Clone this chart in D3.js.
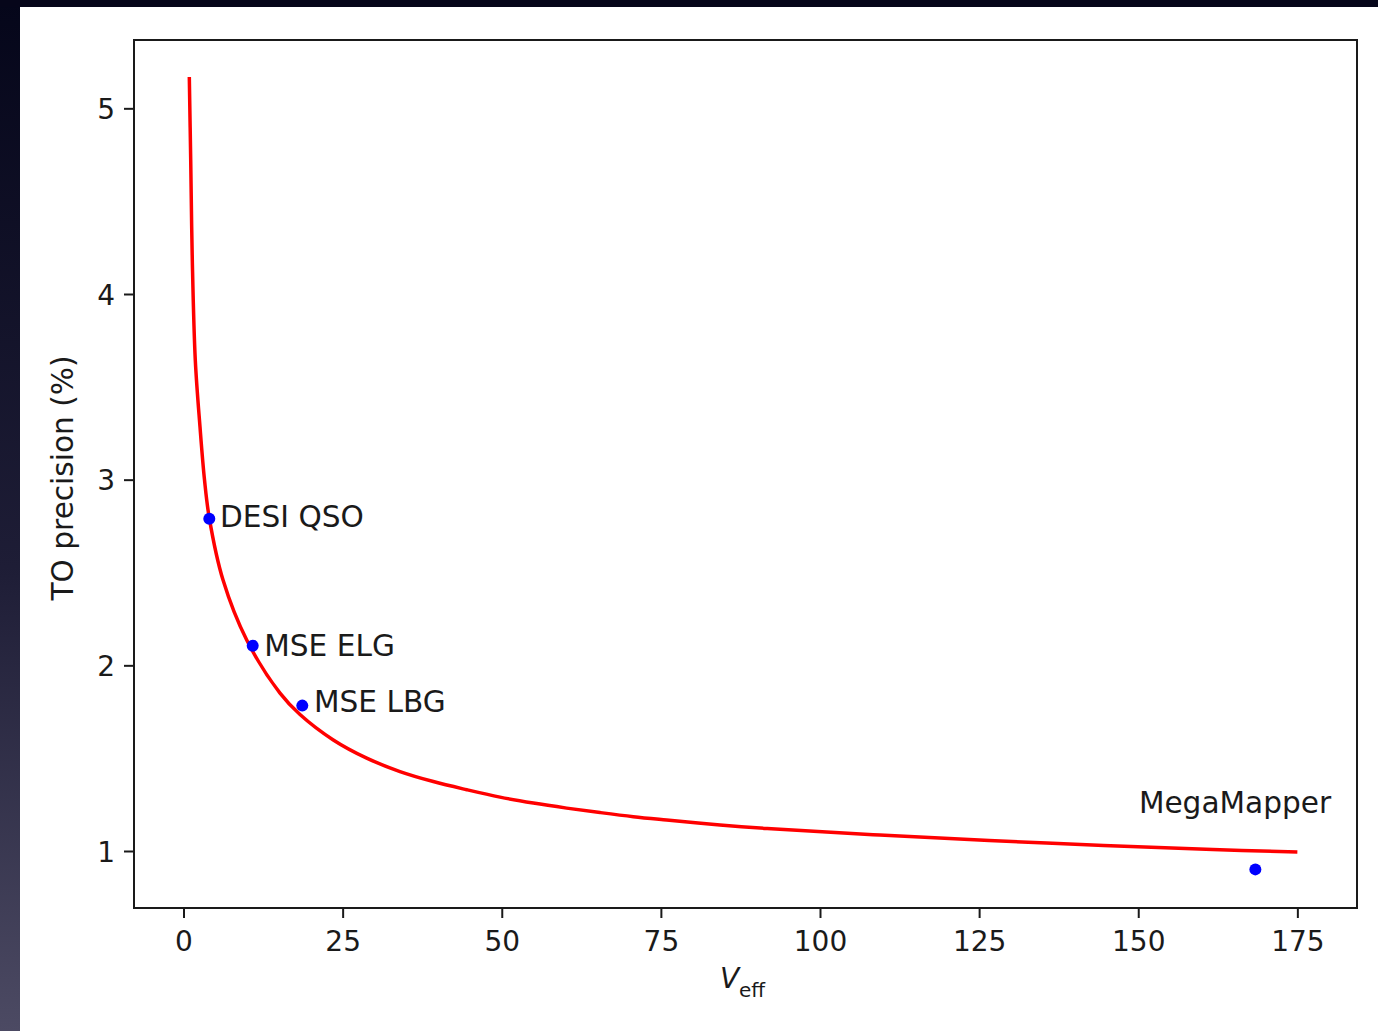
<!DOCTYPE html>
<html>
<head>
<meta charset="utf-8">
<script src="https://cdn.jsdelivr.net/npm/d3@7"></script>
<style>
  html, body { margin: 0; padding: 0; background: #fff; }
  svg { display: block; }
  text { font-family: "DejaVu Sans", sans-serif; fill: #1a1a1a; }
</style>
</head>
<body>
<svg id="chart" width="1378" height="1031"></svg>
<script>
// ---- data ----
const curveV = [0.91, 1.13, 1.38, 1.85, 2.59, 3.30, 4.05, 6.21, 9.93, 15.16, 18.3, 23.53, 28.78, 34.01, 39.25, 44.49, 49.72, 54.96, 60.2, 65.44, 70.67, 75.91, 84.29, 91.7, 109.4, 135.6, 161.7, 175];
const curveP = [5.169, 4.722, 4.183, 3.644, 3.284, 2.998, 2.793, 2.459, 2.136, 1.850, 1.735, 1.598, 1.500, 1.428, 1.374, 1.330, 1.290, 1.258, 1.231, 1.207, 1.185, 1.167, 1.140, 1.121, 1.086, 1.043, 1.008, 0.995];

const surveyNames = ["DESI QSO", "MSE ELG", "MSE LBG", "MegaMapper"];
const surveyV = [4.05, 10.87, 18.66, 168.4];
const surveyP = [2.79, 2.106, 1.783, 0.901];
// annotation anchor points (data coordinates, as placed with text())
const labelV = [5.73, 12.69, 20.5, 150.1];
const labelP = [2.745, 2.05, 1.75, 1.205];

const xTicks = [0, 25, 50, 75, 100, 125, 150, 175];
const yTicks = [1, 2, 3, 4, 5];
const xDomain = [-7.78, 184.37];
const yDomain = [0.693, 5.368];

// ---- drawing ----
const svg = d3.select("#chart");
const W = 1378, H = 1031;
const plot = { left: 134, top: 40, right: 1357, bottom: 908 };
const FS = 28;     // tick labels
const FS2 = 29.6;  // annotations / y title

// outer dark frame
const defs = svg.append("defs");
const grad = defs.append("linearGradient").attr("id", "bg").attr("x1", 0).attr("y1", 0).attr("x2", 0).attr("y2", 1);
grad.append("stop").attr("offset", "0%").attr("stop-color", "#05061a");
grad.append("stop").attr("offset", "55%").attr("stop-color", "#1e1d36");
grad.append("stop").attr("offset", "100%").attr("stop-color", "#4c4a63");
svg.append("rect").attr("x", 0).attr("y", 0).attr("width", W).attr("height", H).attr("fill", "url(#bg)");
svg.append("rect").attr("x", 0).attr("y", 0).attr("width", W).attr("height", 7).attr("fill", "#06061a");
svg.append("rect").attr("x", 20).attr("y", 7).attr("width", W - 20).attr("height", H - 7).attr("fill", "#ffffff");

const x = d3.scaleLinear().domain(xDomain).range([plot.left, plot.right]);
const y = d3.scaleLinear().domain(yDomain).range([plot.bottom, plot.top]);

// axes
const xAxis = svg.append("g")
  .attr("transform", `translate(0,${plot.bottom})`)
  .call(d3.axisBottom(x).tickValues(xTicks).tickFormat(d3.format("d")).tickSize(10).tickPadding(13).tickSizeOuter(0));
const yAxis = svg.append("g")
  .attr("transform", `translate(${plot.left},0)`)
  .call(d3.axisLeft(y).tickValues(yTicks).tickFormat(d3.format("d")).tickSize(10).tickPadding(9).tickSizeOuter(0));

[xAxis, yAxis].forEach(g => {
  g.select(".domain").remove();
  g.selectAll(".tick line").attr("stroke", "#1a1a1a").attr("stroke-width", 2);
  g.selectAll(".tick text").attr("font-size", FS).attr("font-family", "DejaVu Sans").attr("fill", "#1a1a1a");
});
yAxis.selectAll(".tick text").attr("dy", "0.36em");

// clip for plot contents
defs.append("clipPath").attr("id", "plotclip").append("rect")
  .attr("x", plot.left).attr("y", plot.top)
  .attr("width", plot.right - plot.left).attr("height", plot.bottom - plot.top);

// curve
const curveData = curveV.map((v, i) => [v, curveP[i]]);
svg.append("path")
  .datum(curveData)
  .attr("clip-path", "url(#plotclip)")
  .attr("fill", "none")
  .attr("stroke", "#ff0000")
  .attr("stroke-width", 3.5)
  .attr("stroke-linejoin", "round")
  .attr("d", d3.line().x(d => x(d[0])).y(d => y(d[1])).curve(d3.curveCatmullRom.alpha(0.5)));

// survey points
svg.append("g").selectAll("circle")
  .data(surveyNames)
  .join("circle")
  .attr("cx", (d, i) => x(surveyV[i]))
  .attr("cy", (d, i) => y(surveyP[i]))
  .attr("r", 6)
  .attr("fill", "#0000ff");

// labels
svg.append("g").selectAll("text")
  .data(surveyNames)
  .join("text")
  .attr("x", (d, i) => x(labelV[i]))
  .attr("y", (d, i) => y(labelP[i]))
  .attr("font-size", FS2)
  .text(d => d);

// frame
svg.append("rect")
  .attr("x", plot.left).attr("y", plot.top)
  .attr("width", plot.right - plot.left).attr("height", plot.bottom - plot.top)
  .attr("fill", "none").attr("stroke", "#1a1a1a").attr("stroke-width", 2);

// axis titles
const xl = svg.append("text")
  .attr("x", (plot.left + plot.right) / 2 - 3)
  .attr("y", 988)
  .attr("text-anchor", "middle")
  .attr("font-size", FS);
xl.append("tspan").attr("font-style", "italic").text("V");
xl.append("tspan").attr("font-size", 20).attr("dy", 9).text("eff");

svg.append("text")
  .attr("transform", "translate(73,478) rotate(-90)")
  .attr("text-anchor", "middle")
  .attr("font-size", FS2)
  .text("TO precision (%)");
</script>
</body>
</html>
